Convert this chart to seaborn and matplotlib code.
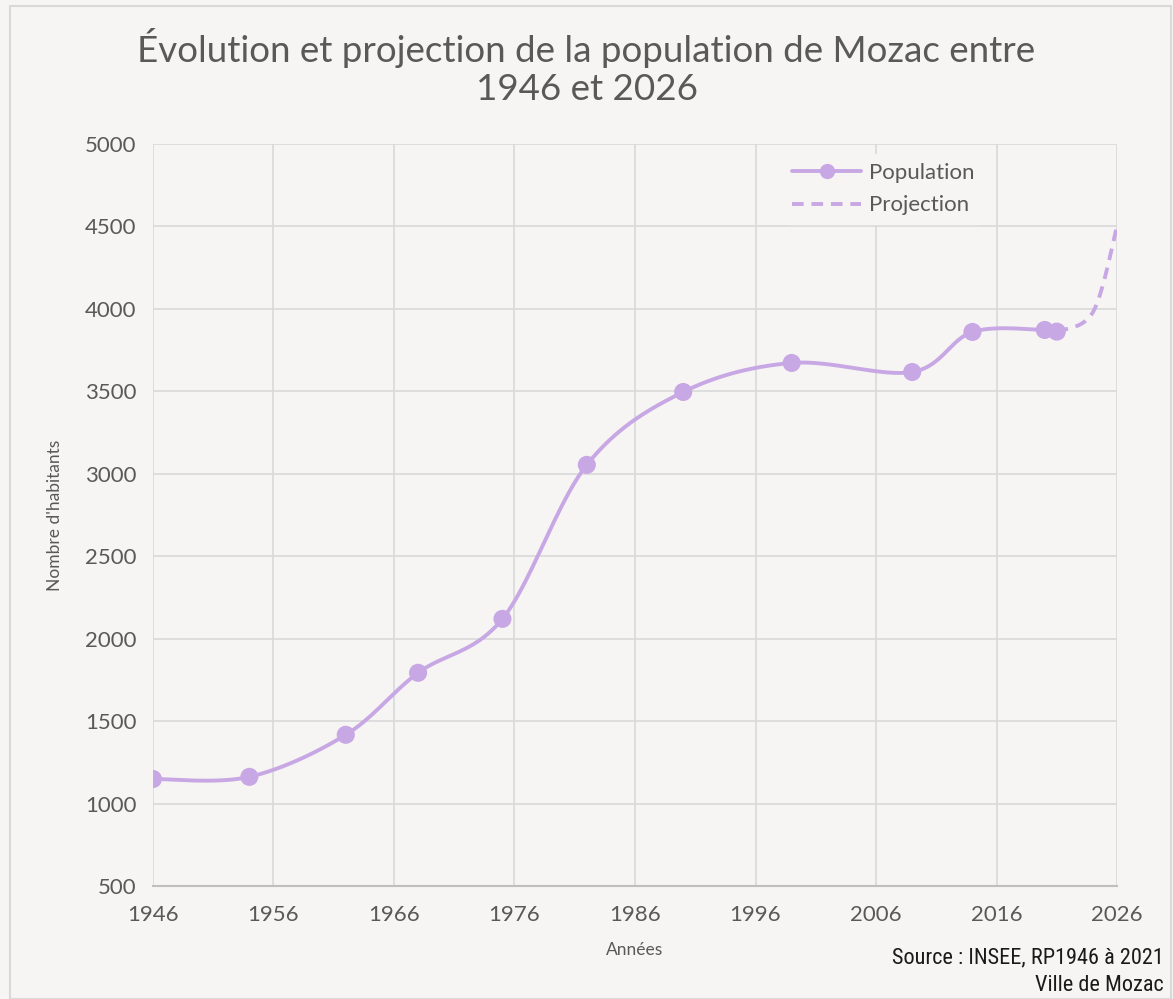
import matplotlib
matplotlib.use("Agg")
import matplotlib.pyplot as plt
from matplotlib.lines import Line2D
import seaborn as sns
import numpy as np
import pandas as pd

# Census data (INSEE)
years = [1946, 1954, 1962, 1968, 1975, 1982, 1990, 1999, 2009, 2014, 2020, 2021]
population = [1149, 1162, 1417, 1793, 2120, 3054, 3496, 3672, 3617, 3860, 3872, 3862]

# Projection
proj_years = [2021, 2024, 2026]
proj_values = [3862, 3980, 4500]

x_ticks = [1946, 1956, 1966, 1976, 1986, 1996, 2006, 2016, 2026]
y_ticks = [500, 1000, 1500, 2000, 2500, 3000, 3500, 4000, 4500, 5000]

LINE_COLOR = "#C8A8E4"
TEXT_COLOR = "#595959"
BG_COLOR = "#F6F5F3"
GRID_COLOR = "#D9D9D9"
NARROW = ["Liberation Sans Narrow", "DejaVu Sans Condensed", "Roboto Condensed", "Open Sans Condensed", "Roboto"]


def smooth(xs, ys, n=40):
    """Catmull-Rom style smoothing, like Excel's smoothed line"""
    xs = np.asarray(xs, float)
    ys = np.asarray(ys, float)
    px = np.concatenate([[xs[0]], xs, [xs[-1]]])
    py = np.concatenate([[ys[0]], ys, [ys[-1]]])
    out_x, out_y = [], []
    t = np.linspace(0, 1, n)
    for i in range(1, len(px) - 2):
        p0x, p1x, p2x, p3x = px[i - 1], px[i], px[i + 1], px[i + 2]
        p0y, p1y, p2y, p3y = py[i - 1], py[i], py[i + 1], py[i + 2]
        c1x, c1y = p1x + (p2x - p0x) / 6, p1y + (p2y - p0y) / 6
        c2x, c2y = p2x - (p3x - p1x) / 6, p2y - (p3y - p1y) / 6
        bx = (1 - t) ** 3 * p1x + 3 * (1 - t) ** 2 * t * c1x + 3 * (1 - t) * t ** 2 * c2x + t ** 3 * p2x
        by = (1 - t) ** 3 * p1y + 3 * (1 - t) ** 2 * t * c1y + 3 * (1 - t) * t ** 2 * c2y + t ** 3 * p2y
        out_x.extend(bx)
        out_y.extend(by)
    return np.array(out_x), np.array(out_y)


sns.set_theme(style="white")
plt.rcParams['font.family'] = ['Lato', 'DejaVu Sans']

fig = plt.figure(figsize=(11.73, 9.99), dpi=100, facecolor=BG_COLOR)
ax = fig.add_axes([0.1304, 0.1131, 0.8219, 0.7428])
ax.set_facecolor(BG_COLOR)

# Border around the chart area
fig.patches.append(plt.Rectangle((0.0085, 0.0), 0.99, 0.994, transform=fig.transFigure,
                                 fill=False, edgecolor=GRID_COLOR, linewidth=1.5))

pop_df = pd.DataFrame({"year": years, "population": population})
sx, sy = smooth(years, population)
px_, py_ = smooth(proj_years, proj_values)

sns.lineplot(x=sx, y=sy, ax=ax, color=LINE_COLOR, linewidth=2.8, sort=False)
sns.lineplot(x=px_, y=py_, ax=ax, color=LINE_COLOR, linewidth=2.8, sort=False,
             linestyle=(0, (3, 2)))
sns.scatterplot(data=pop_df, x="year", y="population", ax=ax, color=LINE_COLOR,
                s=170, edgecolor="none", zorder=5)

# Axes
ax.set_xlim(1946, 2026)
ax.set_ylim(500, 5000)
ax.set_xticks(x_ticks)
ax.set_yticks(y_ticks)
ax.tick_params(axis="both", length=0, labelsize=16, colors=TEXT_COLOR)
ax.tick_params(axis="x", pad=14)
ax.tick_params(axis="y", pad=12)
ax.grid(True, color=GRID_COLOR, linewidth=1.2)
for side in ["top", "right", "left"]:
    ax.spines[side].set_visible(False)
ax.spines["bottom"].set_color("#BFBFBF")
ax.spines["bottom"].set_linewidth(1.5)

ax.set_xlabel("Années", fontsize=12.5, color=TEXT_COLOR, labelpad=12)
ax.set_ylabel("Nombre d'habitants", fontsize=12.5, color=TEXT_COLOR, labelpad=16)

# Title
fig.text(0.5, 0.972, "Évolution et projection de la population de Mozac entre\n1946 et 2026",
         ha="center", va="top", fontsize=26.5, color=TEXT_COLOR, linespacing=1.2)

# Legend
handles = [
    Line2D([0], [0], color=LINE_COLOR, linewidth=2.8, marker="o", markersize=11,
           markeredgewidth=0, label="Population"),
    Line2D([0], [0], color=LINE_COLOR, linewidth=2.8, linestyle=(0, (3, 2)), label="Projection"),
]
leg = ax.legend(handles=handles, loc="upper right", bbox_to_anchor=(0.868, 0.995), frameon=True,
                fontsize=16, handlelength=3.1, handletextpad=0.35, labelspacing=0.55,
                borderaxespad=0.3)
leg.get_frame().set_facecolor(BG_COLOR)
leg.get_frame().set_edgecolor(BG_COLOR)
leg.get_frame().set_alpha(1)
for t in leg.get_texts():
    t.set_color(TEXT_COLOR)

# Source
fig.text(0.992, 0.041, "Source : INSEE, RP1946 à 2021", ha="right", va="center",
         fontsize=16, color="#1a1a1a", family=NARROW)
fig.text(0.992, 0.014, "Ville de Mozac", ha="right", va="center",
         fontsize=16, color="#1a1a1a", family=NARROW)

fig.savefig("out.png", dpi=100, facecolor=BG_COLOR)
plt.close(fig)
